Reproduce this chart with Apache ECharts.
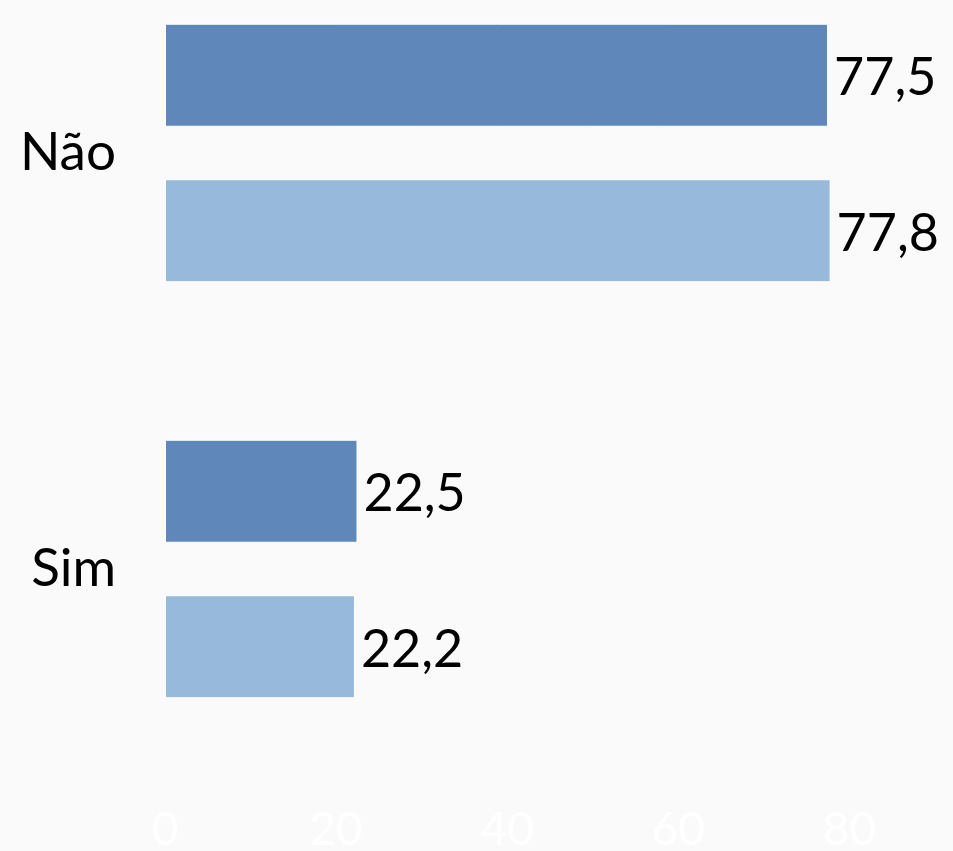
<!DOCTYPE html>
<html lang="pt-BR" style="height: 100%">
  <head>
    <meta charset="utf-8" />
    <title>Não / Sim</title>
  </head>
  <body style="height: 100%; margin: 0; background: #fafafa">
    <div id="container" style="height: 100%"></div>

    <script
      type="text/javascript"
      src="https://fastly.jsdelivr.net/npm/echarts@6/dist/echarts.min.js"
    ></script>

    <script type="text/javascript">
      var categories = ["Não", "Sim"];
      var serieA = [77.5, 22.5];
      var serieB = [77.8, 22.2];
      var xTicks = [0, 20, 40, 60, 80];

      var dom = document.getElementById("container");
      var myChart = echarts.init(dom, null, { renderer: "canvas" });

      function fmt(p) {
        return String(p.value.toFixed(1)).replace(".", ",");
      }

      var labelStyle = {
        show: true,
        position: "right",
        distance: 6,
        offset: [0, 3],
        color: "#000",
        fontFamily: "Lato",
        fontSize: 52,
        formatter: fmt,
      };

      var option = {
        backgroundColor: "#fafafa",
        animation: false,
        grid: {
          left: 165,
          right: 18,
          top: -55,
          height: 832,
          outerBoundsMode: "none",
          containLabel: false,
        },
        xAxis: {
          type: "value",
          min: 0,
          max: 90,
          interval: 20,
          axisLine: { show: false },
          axisTick: { show: false },
          splitLine: { show: false },
          axisLabel: {
            color: "#ffffff",
            fontFamily: "Lato",
            fontSize: 46,
            margin: 30,
            formatter: function (v) {
              return xTicks.indexOf(v) >= 0 ? String(v) : "";
            },
          },
        },
        yAxis: {
          type: "category",
          inverse: true,
          data: categories,
          axisLine: { show: false },
          axisTick: { show: false },
          axisLabel: {
            color: "#000",
            fontFamily: "Lato",
            fontSize: 53,
            margin: 49,
          },
        },
        series: [
          {
            type: "bar",
            data: serieA,
            barWidth: 103,
            barGap: "51%",
            itemStyle: { color: "#5f87b9", borderColor: "#ffffff", borderWidth: 1 },
            label: labelStyle,
          },
          {
            type: "bar",
            data: serieB,
            barWidth: 103,
            itemStyle: { color: "#97b9db", borderColor: "#ffffff", borderWidth: 1 },
            label: labelStyle,
          },
        ],
      };

      myChart.setOption(option);
      window.addEventListener("resize", myChart.resize);
    </script>
  </body>
</html>
